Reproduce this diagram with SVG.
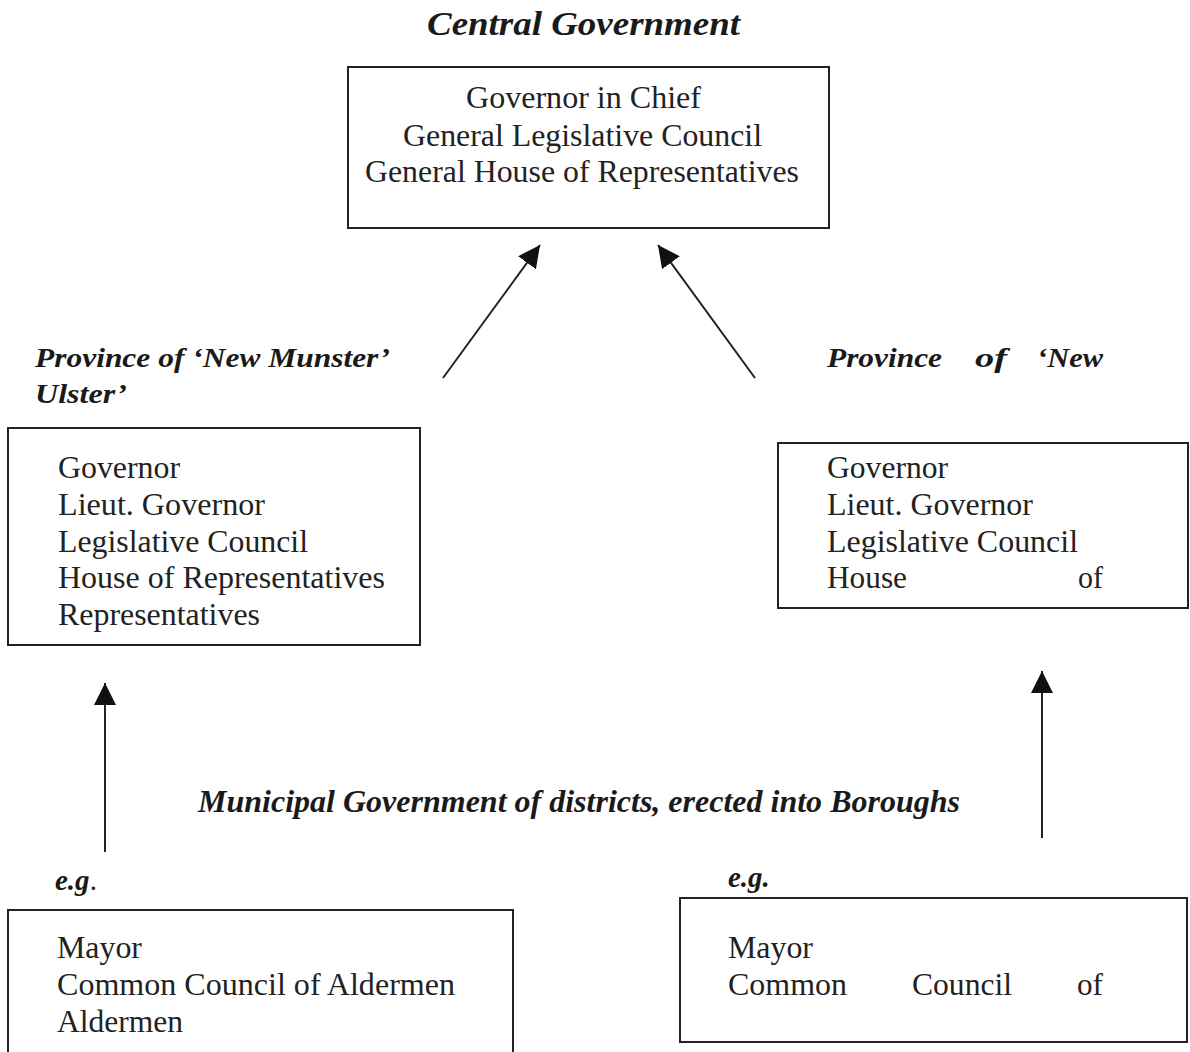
<svg xmlns="http://www.w3.org/2000/svg" width="1190" height="1052" viewBox="0 0 1190 1052">
<style>
.box{fill:none;stroke:#222;stroke-width:2}
.body{font-size:31px;fill:#222}
.title{font-size:28px;font-weight:bold;font-style:italic;fill:#1a1a1a}
.conn{stroke:#222;stroke-width:2;fill:none;marker-end:url(#ah)}
</style>
<defs>
<marker id="ah" markerUnits="userSpaceOnUse" markerWidth="24" markerHeight="24" refX="22" refY="11" orient="auto">
<path d="M0,0 L22,11 L0,22 Z" fill="#111"/>
</marker>
</defs>
<rect width="1190" height="1052" fill="#fff"/>
<g font-family="Liberation Serif, Times New Roman, Times, serif">
<g id="central">
<text class="title" x="427" y="35" textLength="313" lengthAdjust="spacingAndGlyphs" style="font-size:34px">Central Government</text>
<rect class="box" x="348" y="67" width="481" height="161"/>
<text class="body" x="466" y="108" textLength="235" lengthAdjust="spacingAndGlyphs">Governor in Chief</text>
<text class="body" x="403" y="146" textLength="359" lengthAdjust="spacingAndGlyphs">General Legislative Council</text>
<text class="body" x="365" y="182" textLength="434" lengthAdjust="spacingAndGlyphs">General House of Representatives</text>
</g>

<g id="new-munster">
<text class="title" x="35" y="367" textLength="355" lengthAdjust="spacingAndGlyphs">Province of ‘New Munster’</text>
<text class="title" x="35" y="403" textLength="92" lengthAdjust="spacingAndGlyphs">Ulster’</text>
<rect class="box" x="8" y="428" width="412" height="217"/>
<text class="body" x="58" y="478" textLength="122" lengthAdjust="spacingAndGlyphs">Governor</text>
<text class="body" x="58" y="515" textLength="207" lengthAdjust="spacingAndGlyphs">Lieut. Governor</text>
<text class="body" x="58" y="552" textLength="250" lengthAdjust="spacingAndGlyphs">Legislative Council</text>
<text class="body" x="58" y="588" textLength="327" lengthAdjust="spacingAndGlyphs">House of Representatives</text>
<text class="body" x="58" y="625" textLength="202" lengthAdjust="spacingAndGlyphs">Representatives</text>
</g>

<g id="new-ulster">
<text class="title" x="827" y="367" textLength="115" lengthAdjust="spacingAndGlyphs">Province</text>
<text class="title" x="975" y="367" textLength="32" lengthAdjust="spacingAndGlyphs">of</text>
<text class="title" x="1037" y="367" textLength="66" lengthAdjust="spacingAndGlyphs">‘New</text>
<rect class="box" x="778" y="443" width="410" height="165"/>
<text class="body" x="827" y="478" textLength="121" lengthAdjust="spacingAndGlyphs">Governor</text>
<text class="body" x="827" y="515" textLength="206" lengthAdjust="spacingAndGlyphs">Lieut. Governor</text>
<text class="body" x="827" y="552" textLength="251" lengthAdjust="spacingAndGlyphs">Legislative Council</text>
<text class="body" x="827" y="588" textLength="80" lengthAdjust="spacingAndGlyphs">House</text>
<text class="body" x="1078" y="588" textLength="25" lengthAdjust="spacingAndGlyphs">of</text>
</g>

<g id="municipal-label">
<text class="title" x="198" y="812" textLength="762" lengthAdjust="spacingAndGlyphs" style="font-size:32px">Municipal Government of districts, erected into Boroughs</text>
</g>

<g id="borough-left">
<text class="title" x="55" y="890" style="font-size:29px">e.g<tspan style="font-weight:normal;font-style:normal">.</tspan></text>
<rect class="box" x="8" y="910" width="505" height="160"/>
<text class="body" x="57" y="958" textLength="85" lengthAdjust="spacingAndGlyphs">Mayor</text>
<text class="body" x="57" y="995" textLength="398" lengthAdjust="spacingAndGlyphs">Common Council of Aldermen</text>
<text class="body" x="57" y="1032" textLength="126" lengthAdjust="spacingAndGlyphs">Aldermen</text>
</g>

<g id="borough-right">
<text class="title" x="728" y="887" style="font-size:29px">e.g.</text>
<rect class="box" x="680" y="898" width="507" height="144"/>
<text class="body" x="728" y="958" textLength="85" lengthAdjust="spacingAndGlyphs">Mayor</text>
<text class="body" x="728" y="995" textLength="119" lengthAdjust="spacingAndGlyphs">Common</text>
<text class="body" x="912" y="995" textLength="100" lengthAdjust="spacingAndGlyphs">Council</text>
<text class="body" x="1077" y="995" textLength="26" lengthAdjust="spacingAndGlyphs">of</text>
</g>
</g>
<g id="connectors">
<line class="conn" x1="443" y1="378" x2="540" y2="245"/>
<line class="conn" x1="755" y1="378" x2="658" y2="245"/>
<line class="conn" x1="105" y1="852" x2="105" y2="683"/>
<line class="conn" x1="1042" y1="838" x2="1042" y2="671"/>
</g>
</svg>
